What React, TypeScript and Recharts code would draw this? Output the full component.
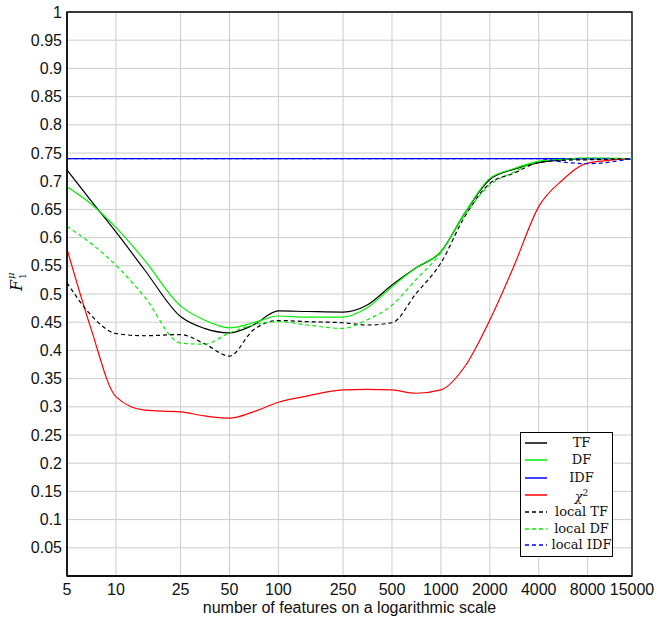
import { LineChart, Line, XAxis, YAxis, CartesianGrid, ReferenceArea } from 'recharts'

const featureCounts = [5, 7, 10, 15, 25, 35, 50, 70, 100, 150, 250, 350, 500, 700, 1000, 1400, 2000, 2800, 4000, 5600, 8000, 15000]

const tf = [0.72, 0.666, 0.61, 0.543, 0.46, 0.439, 0.431, 0.445, 0.47, 0.469, 0.468, 0.48, 0.516, 0.546, 0.575, 0.643, 0.703, 0.721, 0.733, 0.738, 0.74, 0.74]
const df = [0.69, 0.66, 0.618, 0.56, 0.479, 0.454, 0.44, 0.449, 0.461, 0.459, 0.459, 0.475, 0.513, 0.546, 0.575, 0.643, 0.705, 0.722, 0.735, 0.739, 0.741, 0.74]
const idf = [0.74, 0.74, 0.74, 0.74, 0.74, 0.74, 0.74, 0.74, 0.74, 0.74, 0.74, 0.74, 0.74, 0.74, 0.74, 0.74, 0.74, 0.74, 0.74, 0.74, 0.74, 0.74]
const chi2 = [0.58, 0.44, 0.318, 0.294, 0.291, 0.284, 0.28, 0.291, 0.308, 0.319, 0.33, 0.331, 0.33, 0.324, 0.33, 0.371, 0.454, 0.548, 0.655, 0.702, 0.732, 0.74]
const localTf = [0.52, 0.463, 0.43, 0.426, 0.428, 0.412, 0.39, 0.436, 0.453, 0.451, 0.449, 0.445, 0.449, 0.5, 0.555, 0.637, 0.696, 0.714, 0.733, 0.737, 0.738, 0.74]
const localDf = [0.62, 0.59, 0.551, 0.495, 0.413, 0.411, 0.431, 0.445, 0.451, 0.445, 0.439, 0.454, 0.48, 0.525, 0.573, 0.64, 0.693, 0.716, 0.735, 0.739, 0.741, 0.74]
const localIdf = [0.74, 0.74, 0.74, 0.74, 0.74, 0.74, 0.74, 0.74, 0.74, 0.74, 0.74, 0.74, 0.74, 0.74, 0.74, 0.74, 0.74, 0.74, 0.74, 0.734, 0.731, 0.74]

const xTicks = [5, 10, 25, 50, 100, 250, 500, 1000, 2000, 4000, 8000, 15000]
const yTicks = [0.05, 0.1, 0.15, 0.2, 0.25, 0.3, 0.35, 0.4, 0.45, 0.5, 0.55, 0.6, 0.65, 0.7, 0.75, 0.8, 0.85, 0.9, 0.95, 1]

const data = featureCounts.map((x, i) => ({
    x,
    tf: tf[i],
    df: df[i],
    idf: idf[i],
    chi2: chi2[i],
    localTf: localTf[i],
    localDf: localDf[i],
    localIdf: localIdf[i],
}))

const series = [
    { key: 'tf', color: '#000000', dashed: false },
    { key: 'df', color: '#00ee00', dashed: false },
    { key: 'idf', color: '#0000ff', dashed: false },
    { key: 'chi2', color: '#ff0000', dashed: false },
    { key: 'localTf', color: '#000000', dashed: true },
    { key: 'localDf', color: '#00ee00', dashed: true },
    { key: 'localIdf', color: '#0000ff', dashed: true },
]

const tickFont = { fontFamily: '"Liberation Sans", Arial, sans-serif', fontSize: 16, fill: '#111' }
const serif = '"DejaVu Serif", "Liberation Serif", serif'

function YLabel() {
    return (
        <g transform="translate(22, 291) rotate(-90)" fontFamily={serif} fill="#111">
            <text x={0} y={0} fontSize={16} fontStyle="italic">F</text>
            <text x={12} y={4} fontSize={9}>1</text>
            <text x={12} y={-8} fontSize={10} fontStyle="italic">μ</text>
        </g>
    )
}

function LegendBox() {
    const rows: Array<{ color: string; dashed: boolean; label: React.ReactNode }> = [
        { color: '#000000', dashed: false, label: 'TF' },
        { color: '#00ee00', dashed: false, label: 'DF' },
        { color: '#0000ff', dashed: false, label: 'IDF' },
        { color: '#ff0000', dashed: false, label: <span><i>χ</i><sup style={{ fontSize: 9 }}>2</sup></span> },
        { color: '#000000', dashed: true, label: 'local TF' },
        { color: '#00ee00', dashed: true, label: 'local DF' },
        { color: '#0000ff', dashed: true, label: 'local IDF' },
    ]
    return (
        <div
            style={{
                position: 'absolute',
                left: 520,
                top: 432,
                width: 93,
                height: 125,
                border: '1px solid #000',
                background: '#fff',
                fontFamily: serif,
                fontSize: 13,
                color: '#111',
                boxSizing: 'border-box',
                paddingTop: 1,
            }}
        >
            {rows.map((r, i) => (
                <div key={i} style={{ display: 'flex', alignItems: 'center', height: i < 4 ? 17.5 : 16.5 }}>
                    <svg width={30} height={10} style={{ flex: 'none' }}>
                        <line
                            x1={4}
                            x2={26}
                            y1={5}
                            y2={5}
                            stroke={r.color}
                            strokeWidth={1.5}
                            strokeDasharray={r.dashed ? '4 3' : undefined}
                        />
                    </svg>
                    <div style={{ flex: 1, textAlign: 'center', lineHeight: '14px' }}>{r.label}</div>
                </div>
            ))}
        </div>
    )
}

export default function App() {
    return (
        <div style={{ position: 'absolute', left: 0, top: 0, width: 665, height: 621, background: '#fff' }}>
            <LineChart width={665} height={621} data={data} margin={{ top: 12, right: 33, left: 10, bottom: 0 }}>
                <CartesianGrid stroke="#cccccc" strokeWidth={1} />
                <XAxis
                    dataKey="x"
                    type="number"
                    scale="log"
                    domain={[5, 15000]}
                    ticks={xTicks}
                    allowDataOverflow
                    height={45}
                    tickSize={0}
                    tickMargin={8}
                    tick={tickFont}
                    axisLine={{ stroke: '#000', strokeWidth: 1.3 }}
                    interval={0}
                    label={{
                        value: 'number of features on a logarithmic scale',
                        position: 'insideBottom',
                        offset: 8,
                        style: { ...tickFont, textAnchor: 'middle' },
                    }}
                />
                <YAxis
                    type="number"
                    domain={[0, 1]}
                    ticks={yTicks}
                    width={57}
                    tickSize={0}
                    tickMargin={5}
                    tick={tickFont}
                    axisLine={{ stroke: '#000', strokeWidth: 1.3 }}
                    interval={0}
                    tickFormatter={(v) => String(v)}
                    label={<YLabel />}
                />
                <ReferenceArea x1={5} x2={15000} y1={0} y2={1} fill="none" stroke="#000" strokeWidth={1.3} />
                {series.map((s) => (
                    <Line
                        key={s.key}
                        dataKey={s.key}
                        type="monotone"
                        stroke={s.color}
                        strokeWidth={1.2}
                        strokeDasharray={s.dashed ? '4 3' : undefined}
                        dot={false}
                        isAnimationActive={false}
                    />
                ))}
            </LineChart>
            <LegendBox />
        </div>
    )
}
